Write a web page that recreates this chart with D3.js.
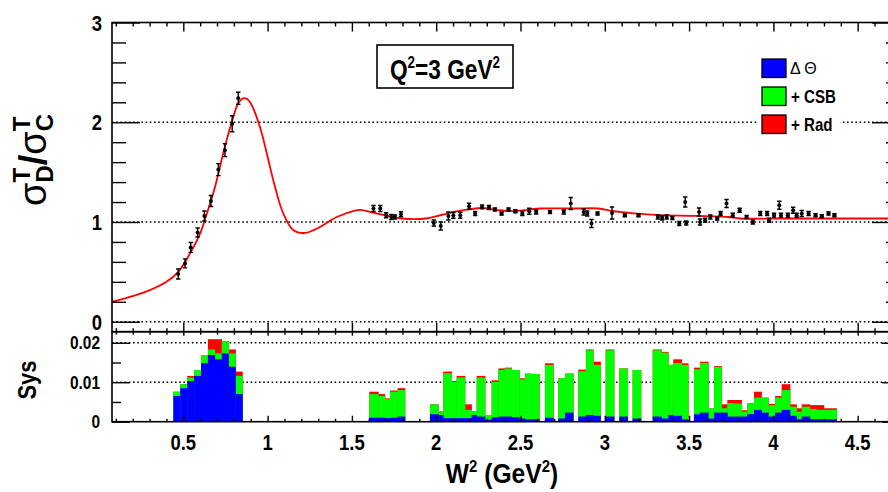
<!DOCTYPE html>
<html><head><meta charset="utf-8">
<script src="https://cdn.jsdelivr.net/npm/d3@7"></script>
<style>
body{margin:0;background:#fff;}
text{font-family:"Liberation Sans",Arial,Helvetica,sans-serif;}
</style>
</head><body>
<svg id="c" width="888" height="492" xmlns="http://www.w3.org/2000/svg"></svg>
<script>
// ---------------- data ----------------
const ratioW = [0.47,0.51,0.544,0.585,0.625,0.664,0.708,0.747,0.79,0.826,
  1.628,1.668,1.703,1.734,1.755,1.791,
  1.986,2.027,2.072,2.102,2.143,2.195,2.231,2.272,2.313,2.348,2.388,2.429,2.470,2.511,2.552,2.593,
  2.675,2.757,2.798,2.875,2.896,2.921,2.957,3.043,3.119,3.200,
  3.315,3.340,3.367,3.401,3.442,3.477,3.483,3.559,3.565,3.595,3.626,3.667,3.687,3.722,3.759,3.800,
  3.841,3.878,3.922,3.963,3.974,4.004,4.035,4.045,4.086,4.117,4.138,4.168,4.209,4.250,4.287,4.327,4.362];
const ratioVal = [0.478,0.585,0.745,0.895,1.06,1.21,1.525,1.72,1.985,2.24,
  1.135,1.135,1.068,1.05,1.05,1.078,
  0.99,0.96,1.06,1.068,1.068,1.158,1.085,1.151,1.145,1.125,1.085,1.125,1.108,1.085,1.108,1.10,
  1.10,1.10,1.185,1.10,1.085,0.985,1.085,1.09,1.068,1.068,
  1.05,1.04,1.05,1.04,0.985,1.20,0.99,1.10,1.00,1.018,1.05,1.035,1.085,1.185,1.068,1.118,
  1.05,1.00,1.085,1.085,1.018,1.068,1.168,1.068,1.068,1.118,1.068,1.085,1.085,1.068,1.058,1.085,1.068];
const ratioErr = [0.05,0.045,0.05,0.045,0.05,0.055,0.06,0.065,0.08,0.06,
  0.03,0.03,0.025,0.025,0.02,0.025,
  0.03,0.04,0.04,0.03,0.03,0.03,0.02,0.02,0.02,0.015,0.015,0.015,0.015,0.02,0.03,0.02,
  0.015,0.02,0.06,0.03,0.025,0.04,0.015,0.06,0.015,0.015,
  0.02,0.02,0.02,0.015,0.02,0.05,0.02,0.04,0.03,0.02,0.02,0.015,0.02,0.04,0.02,0.02,
  0.015,0.02,0.02,0.02,0.02,0.02,0.04,0.02,0.02,0.03,0.02,0.03,0.02,0.015,0.015,0.015,0.015];

const modelW = [0.077,0.2,0.302,0.40,0.47,0.54,0.60,0.64,0.688,0.737,0.787,0.826,0.856,0.88,0.906,0.955,0.995,1.044,1.093,1.152,1.222,1.31,1.41,1.518,1.55,1.611,1.693,1.795,1.939,2.041,2.164,2.266,2.368,2.47,2.614,2.818,2.961,3.043,3.125,3.227,3.329,3.534,3.738,3.8,4.045,4.352,4.751];
const modelVal = [0.20,0.257,0.317,0.40,0.50,0.685,0.885,1.085,1.35,1.69,2.0,2.19,2.24,2.23,2.17,1.95,1.69,1.35,1.085,0.92,0.89,0.95,1.05,1.115,1.122,1.10,1.068,1.035,1.035,1.075,1.118,1.14,1.118,1.11,1.135,1.135,1.135,1.11,1.095,1.078,1.068,1.061,1.05,1.035,1.035,1.035,1.035];

const sysLo = [0.441,0.482,0.523,0.564,0.605,0.646,0.687,0.728,0.769,0.810,
  1.603,1.657,1.696,1.726,1.771,
  1.963,2.013,2.042,2.092,2.121,2.171,2.210,2.240,2.290,2.329,2.369,2.408,2.448,2.493,2.527,2.566,
  2.645,2.724,2.764,2.843,2.888,2.932,3.005,3.086,3.165,
  3.284,3.337,3.377,3.406,3.456,3.529,3.565,3.614,3.648,3.693,3.727,3.766,3.812,3.845,3.885,3.930,
  3.970,4.010,4.049,4.099,4.138,4.168,4.217,4.257,4.300];
const sysHi = [0.482,0.523,0.564,0.605,0.646,0.687,0.728,0.769,0.810,0.851,
  1.657,1.696,1.726,1.771,1.815,
  2.013,2.042,2.092,2.121,2.171,2.210,2.240,2.290,2.329,2.369,2.408,2.448,2.493,2.527,2.566,2.612,
  2.695,2.764,2.813,2.888,2.932,2.975,3.055,3.136,3.215,
  3.337,3.377,3.406,3.456,3.495,3.565,3.614,3.648,3.693,3.727,3.766,3.812,3.845,3.885,3.930,3.970,
  4.010,4.049,4.099,4.138,4.168,4.217,4.257,4.300,4.375];
// cumulative systematic: Delta Theta, + CSB, + Rad
const sysTheta = [0.0065,0.0085,0.0103,0.0116,0.0148,0.0169,0.0158,0.0173,0.0139,0.0070,
  0.0010,0.0010,0.0009,0.0010,0.0013,
  0.0019,0.0017,0.0009,0.0009,0.0009,0.0009,0.0017,0.0013,0.0005,0.0011,0.0013,0.0013,0.0011,0.0008,0.0006,0.0006,
  0.0010,0.0008,0.0023,0.0013,0.0017,0.0015,0.0013,0.0013,0.0008,
  0.0013,0.0008,0.0017,0.0015,0.0006,0.0019,0.0023,0.0008,0.0023,0.0023,0.0013,0.0013,0.0013,0.0019,0.0030,0.0023,
  0.0013,0.0023,0.0030,0.0015,0.0006,0.0013,0.0006,0.0006,0.0006];
const sysCSB = [0.0076,0.0095,0.0112,0.0131,0.0169,0.0183,0.0173,0.0204,0.0173,0.0116,
  0.0070,0.0065,0.0057,0.0076,0.0080,
  0.0044,0.0024,0.0123,0.0101,0.0112,0.0030,0.0026,0.0112,0.0017,0.0101,0.0131,0.0135,0.0131,0.0107,0.0121,0.0121,
  0.0144,0.0110,0.0122,0.0128,0.0181,0.0144,0.0181,0.0135,0.0131,
  0.0181,0.0175,0.0144,0.0149,0.0144,0.0133,0.0149,0.0034,0.0139,0.0034,0.0047,0.0046,0.0025,0.0047,0.0061,0.0061,
  0.0042,0.0061,0.0080,0.0038,0.0025,0.0038,0.0032,0.0030,0.0030];
const sysRad = [0.0076,0.0095,0.0116,0.0131,0.0169,0.0209,0.0209,0.0204,0.0183,0.0127,
  0.0076,0.0070,0.0059,0.0079,0.0085,
  0.0044,0.0026,0.0127,0.0103,0.0116,0.0044,0.0026,0.0116,0.0017,0.0105,0.0135,0.0137,0.0131,0.0110,0.0122,0.0121,
  0.0148,0.0110,0.0122,0.0132,0.0183,0.0152,0.0183,0.0135,0.0131,
  0.0183,0.0177,0.0144,0.0158,0.0148,0.0137,0.0152,0.0034,0.0141,0.0044,0.0055,0.0055,0.0029,0.0047,0.0076,0.0061,
  0.0045,0.0065,0.0095,0.0044,0.0034,0.0044,0.0042,0.0042,0.0034];

const xTickLabels = ["0.5","1","1.5","2","2.5","3","3.5","4","4.5"];
const yTopTickLabels = ["0","1","2","3"];
const ySysTickLabels = ["0","0.01","0.02"];
const legendLabels = ["\u0394 \u0398","+ CSB","+ Rad"];
const legendColors = ["#0000ff","#00ff00","#ff0000"];

// ---------------- layout ----------------
const svg = d3.select("#c");
svg.append("rect").attr("width",888).attr("height",492).attr("fill","#fff");

const L = 112, R = 900, T1 = 22.5, B1 = 331.7, B2 = 421.7;
const x = d3.scaleLinear().domain([0.0771, 4.751]).range([L, R]);
const yTop = d3.scaleLinear().domain([-0.1, 3.0]).range([B1, T1]);
const ySys = d3.scaleLinear().domain([0, 0.0228]).range([B2, B1]);

svg.append("clipPath").attr("id","cp1").append("rect").attr("x",L).attr("y",T1).attr("width",R-L).attr("height",B1-T1);
svg.append("clipPath").attr("id","cp2").append("rect").attr("x",L).attr("y",B1).attr("width",R-L).attr("height",B2-B1);

// grid lines (dotted)
const dot = "1.6,2.6";
svg.append("g").selectAll("line").data([0,1,2]).join("line")
  .attr("x1",L).attr("x2",R).attr("y1",d=>yTop(d)).attr("y2",d=>yTop(d))
  .attr("stroke","#000").attr("stroke-width",1.5).attr("stroke-dasharray",dot);
svg.append("g").selectAll("line").data([0.01,0.02]).join("line")
  .attr("x1",L).attr("x2",R).attr("y1",d=>ySys(d)).attr("y2",d=>ySys(d))
  .attr("stroke","#000").attr("stroke-width",1.5).attr("stroke-dasharray",dot);

// ---- bottom panel stacked bars ----
const bars = svg.append("g").attr("clip-path","url(#cp2)");
const binIdx = d3.range(sysLo.length);
[[sysRad,"#ff0000"],[sysCSB,"#00ff00"],[sysTheta,"#0000ff"]].forEach(([arr,col])=>{
  bars.append("g").selectAll("rect").data(binIdx).join("rect")
    .attr("x",i=>x(sysLo[i])).attr("width",i=>x(sysHi[i])-x(sysLo[i])+0.3)
    .attr("y",i=>ySys(arr[i])).attr("height",i=>ySys(0)-ySys(arr[i]))
    .attr("fill",col);
});

// ---- top panel model curve ----
const topG = svg.append("g").attr("clip-path","url(#cp1)");
const line = d3.line().x(i=>x(modelW[i])).y(i=>yTop(modelVal[i])).curve(d3.curveCatmullRom.alpha(0.5));
topG.append("path").attr("d",line(d3.range(modelW.length)))
  .attr("fill","none").attr("stroke","#ff0000").attr("stroke-width",1.8);

// ---- data points ----
const pts = topG.append("g").attr("stroke","#000").attr("stroke-width",1.4);
const pIdx = d3.range(ratioW.length);
pts.selectAll("line.eb").data(pIdx).join("line").attr("class","eb")
  .attr("x1",i=>x(ratioW[i])).attr("x2",i=>x(ratioW[i]))
  .attr("y1",i=>yTop(ratioVal[i]-ratioErr[i])).attr("y2",i=>yTop(ratioVal[i]+ratioErr[i]));
pts.selectAll("line.c1").data(pIdx).join("line").attr("class","c1")
  .attr("x1",i=>x(ratioW[i])-2.2).attr("x2",i=>x(ratioW[i])+2.2)
  .attr("y1",i=>yTop(ratioVal[i]-ratioErr[i])).attr("y2",i=>yTop(ratioVal[i]-ratioErr[i]));
pts.selectAll("line.c2").data(pIdx).join("line").attr("class","c2")
  .attr("x1",i=>x(ratioW[i])-2.2).attr("x2",i=>x(ratioW[i])+2.2)
  .attr("y1",i=>yTop(ratioVal[i]+ratioErr[i])).attr("y2",i=>yTop(ratioVal[i]+ratioErr[i]));
pts.selectAll("circle").data(pIdx).join("circle")
  .attr("cx",i=>x(ratioW[i])).attr("cy",i=>yTop(ratioVal[i])).attr("r",2).attr("fill","#000").attr("stroke","none");

// ---- frames ----
svg.append("rect").attr("x",L).attr("y",T1).attr("width",R-L).attr("height",B1-T1)
  .attr("fill","none").attr("stroke","#000").attr("stroke-width",1.6);
svg.append("rect").attr("x",L).attr("y",B1).attr("width",R-L).attr("height",B2-B1)
  .attr("fill","none").attr("stroke","#000").attr("stroke-width",1.6);

// ---- ticks via d3 axes ----
const majorX = xTickLabels.map(Number);
const minorX = d3.range(1,48).map(k=>k/10).filter(v=>Math.abs(v*2-Math.round(v*2))>1e-6);
function ticks(axisGen, tx, ty, vals, size){
  const g = svg.append("g").attr("transform",`translate(${tx},${ty})`)
    .call(axisGen.tickValues(vals).tickSize(size).tickFormat(()=>""));
  g.select(".domain").remove();
  g.selectAll("line").attr("stroke","#000").attr("stroke-width",1.4);
}
// x ticks
ticks(d3.axisBottom(x),0,T1,majorX,9);
ticks(d3.axisBottom(x),0,T1,minorX,4);
ticks(d3.axisTop(x),0,B1,majorX,9);
ticks(d3.axisTop(x),0,B1,minorX,3.5);
ticks(d3.axisBottom(x),0,B1,majorX,4);
ticks(d3.axisBottom(x),0,B1,minorX,3);
ticks(d3.axisTop(x),0,B2,majorX,6);
ticks(d3.axisTop(x),0,B2,minorX,3);
// y ticks top
const majorYT = yTopTickLabels.map(Number);
const minorYT = d3.range(0,15).map(k=>k/5).filter(v=>Math.abs(v-Math.round(v))>1e-6);
ticks(d3.axisRight(yTop),L,0,majorYT,28);
ticks(d3.axisRight(yTop),L,0,minorYT,14);
ticks(d3.axisLeft(yTop),R,0,majorYT,28);
ticks(d3.axisLeft(yTop),R,0,minorYT,14);
// y ticks sys
const majorYS = ySysTickLabels.map(Number);
const minorYS = [0.005,0.015];
ticks(d3.axisRight(ySys),L,0,majorYS,18);
ticks(d3.axisRight(ySys),L,0,minorYS,9);
ticks(d3.axisLeft(ySys),R,0,majorYS,18);
ticks(d3.axisLeft(ySys),R,0,minorYS,9);

// ---- text helper (ROOT-like condensed Helvetica) ----
function label(px,py,str,size,anchor,sx,weight){
  return svg.append("text").attr("transform",`translate(${px},${py}) scale(${sx},1)`)
    .attr("text-anchor",anchor).attr("font-size",size).attr("font-weight",weight||"bold")
    .attr("fill","#000").text(str);
}
// x tick labels
xTickLabels.forEach(s=>label(x(+s),450,s,22,"middle",0.84));
// y tick labels
yTopTickLabels.forEach(s=>label(102,yTop(+s)+8,s,22,"end",0.84));
ySysTickLabels.forEach(s=>label(100,ySys(+s)+6.5,s,18,"end",0.86));

// x axis title
const xt = svg.append("text").attr("transform","translate(502,483) scale(0.88,1)")
  .attr("text-anchor","middle").attr("font-size",28).attr("font-weight","bold");
xt.append("tspan").text("W");
xt.append("tspan").attr("font-size",17).attr("dy",-11).text("2");
xt.append("tspan").attr("dy",11).text(" (GeV");
xt.append("tspan").attr("font-size",17).attr("dy",-11).text("2");
xt.append("tspan").attr("dy",11).text(")");

// y axis title top: sigma^T_D / sigma^T_C
const yg = svg.append("g").attr("transform","translate(46,206) rotate(-90)");
let cx = 0;
function big(str,w){ const t=yg.append("text").attr("x",cx).attr("y",0).attr("font-size",38).attr("font-weight",w).text(str); cx += t.node().getComputedTextLength(); }
function stack(sub,sup){
  const a=yg.append("text").attr("x",cx).attr("y",7).attr("font-size",24).attr("font-weight","bold").text(sub);
  const b=yg.append("text").attr("x",cx).attr("y",-16).attr("font-size",24).attr("font-weight","bold").text(sup);
  cx += Math.max(a.node().getComputedTextLength(), b.node().getComputedTextLength());
}
big("\u03c3","normal"); stack("D","T"); big("/","bold"); big("\u03c3","normal"); stack("C","T");

// Sys title
svg.append("text").attr("transform","translate(36,380) rotate(-90) scale(0.88,1)")
  .attr("text-anchor","middle").attr("font-size",25).attr("font-weight","bold").text("Sys");

// Q^2 box
svg.append("rect").attr("x",377).attr("y",45).attr("width",136).attr("height",43)
  .attr("fill","#fff").attr("stroke","#000").attr("stroke-width",1.6);
const qt = svg.append("text").attr("transform","translate(445,79) scale(0.84,1)")
  .attr("text-anchor","middle").attr("font-size",27).attr("font-weight","bold");
qt.append("tspan").text("Q");
qt.append("tspan").attr("font-size",16).attr("dy",-11).text("2");
qt.append("tspan").attr("dy",11).text("=3 GeV");
qt.append("tspan").attr("font-size",16).attr("dy",-11).text("2");

// legend
svg.append("rect").attr("x",758).attr("y",55).attr("width",82).attr("height",82).attr("fill","#fff");
const legY = [59,87,115];
legendLabels.forEach((s,i)=>{
  svg.append("rect").attr("x",762).attr("y",legY[i]).attr("width",24).attr("height",18.5)
    .attr("fill",legendColors[i]).attr("stroke","#000").attr("stroke-width",1.3);
  if(i===0){
    svg.append("text").attr("x",790).attr("y",legY[i]+15).attr("font-size",16)
      .attr("font-weight","normal").attr("fill","#000").text(s);
  } else {
    label(791,legY[i]+15.5,s,18,"start",0.84);
  }
});
</script>
</body></html>
